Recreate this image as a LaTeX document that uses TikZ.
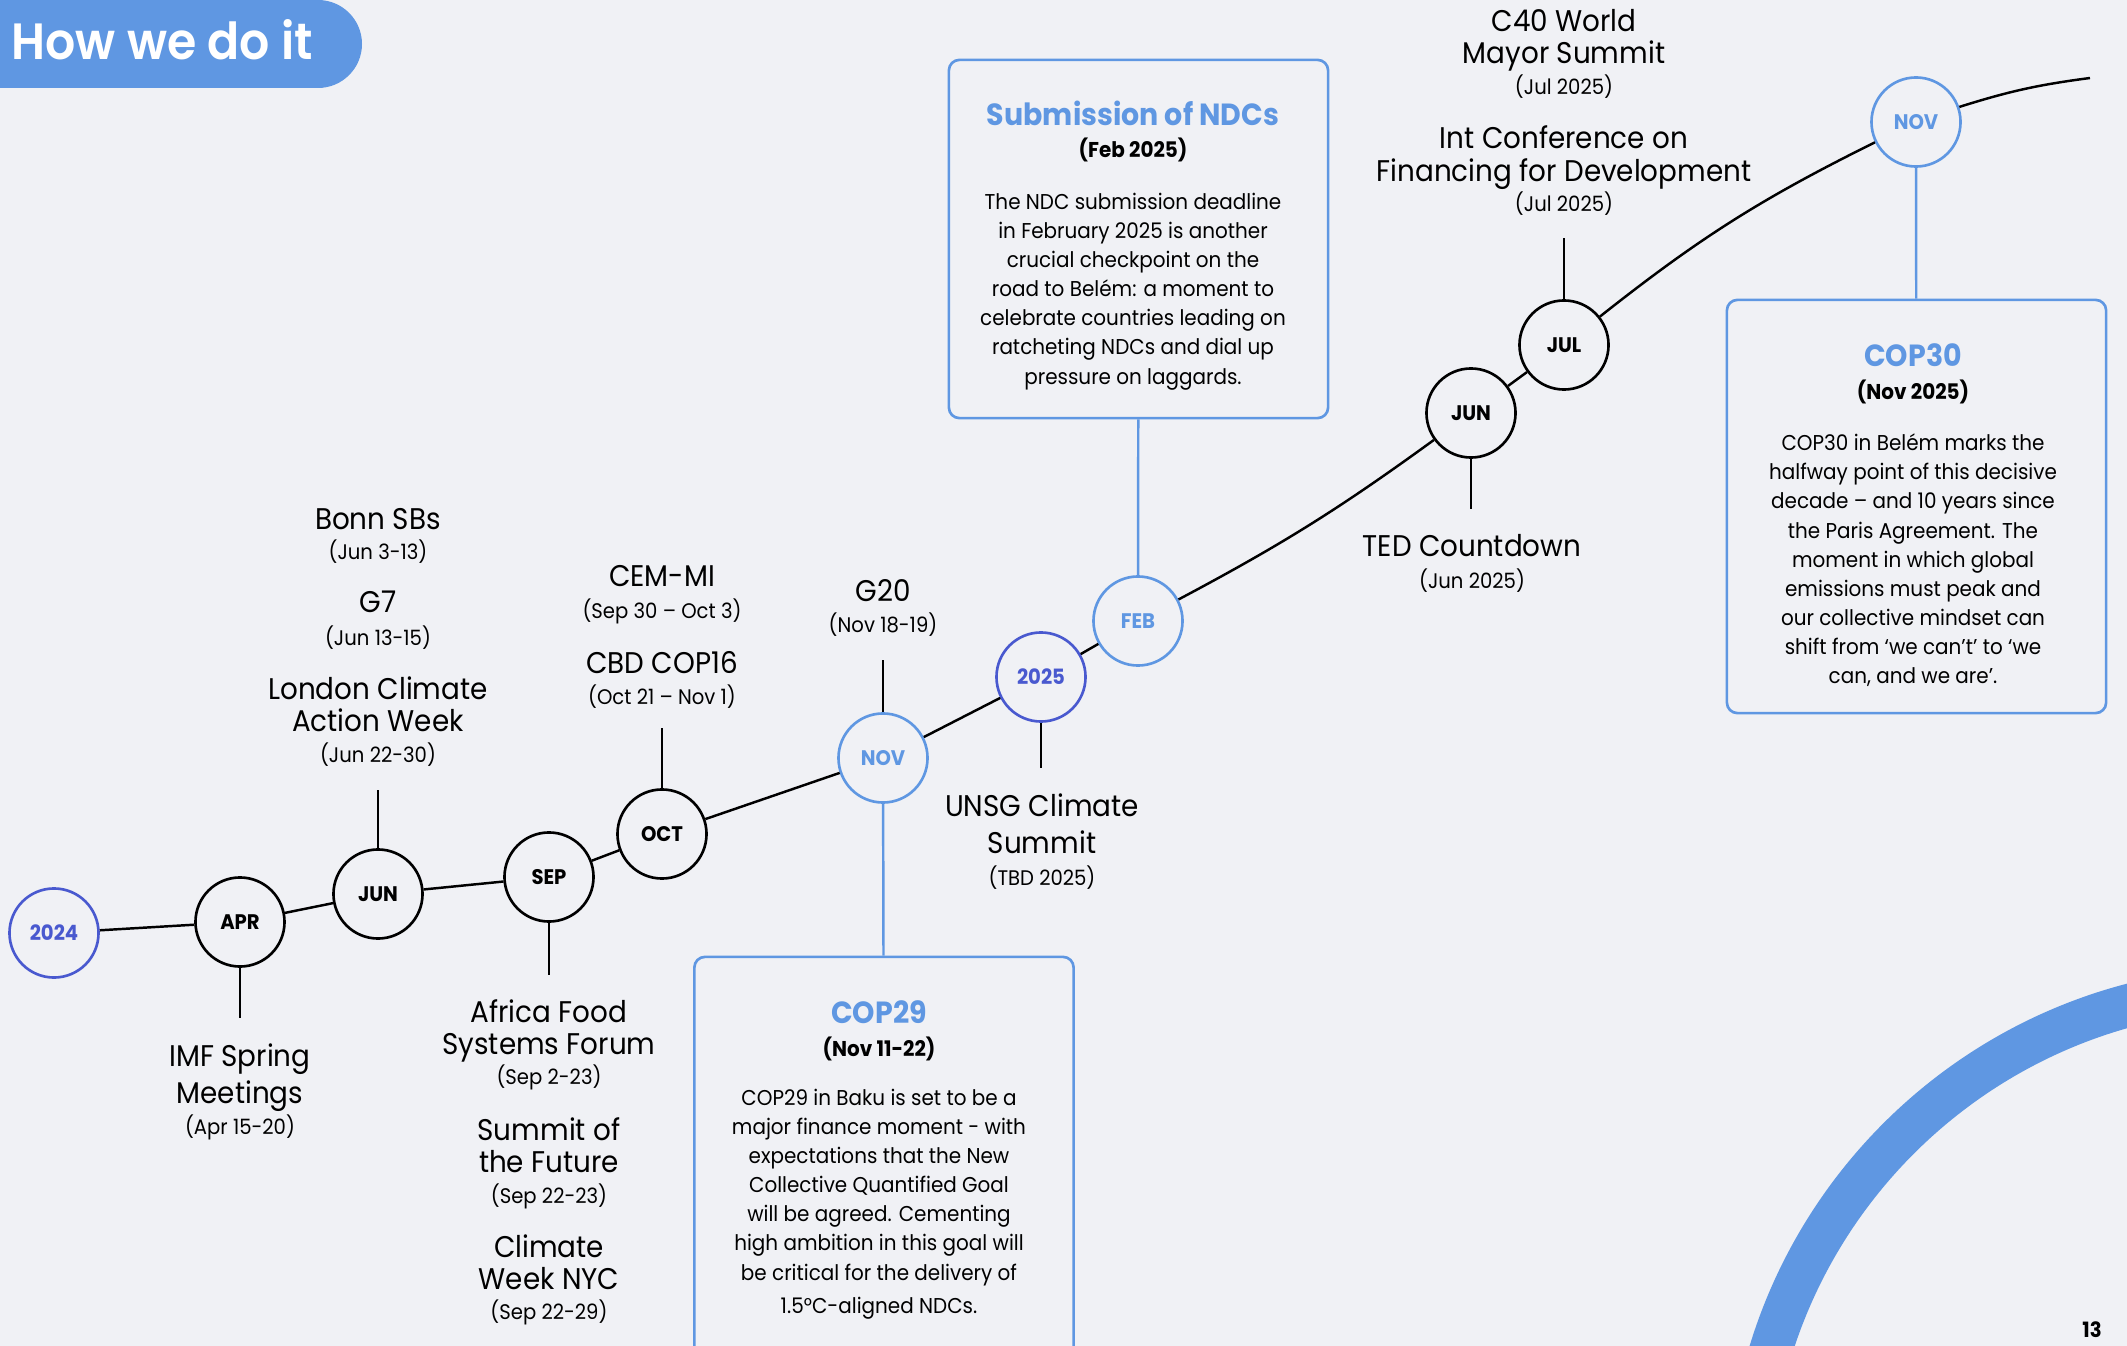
\documentclass[tikz,border=0pt]{standalone}
\usepackage{fontspec}
\setmainfont{Poppins}[FakeStretch=0.93]
\newfontfamily\headfont{Poppins SemiBold}[FakeStretch=0.93]
\definecolor{bgcol}{HTML}{F0F1F5}
\definecolor{lightblue}{HTML}{5F97E2}
\definecolor{darkblue}{HTML}{4959CF}
\newcommand{\evfont}{\fontsize{8.5}{9.1}\selectfont}
\newcommand{\dtfont}{\fontsize{6}{7}\selectfont}
\newcommand{\bodyfont}{\fontsize{6.1}{8.3}\selectfont}

\begin{document}
\begin{tikzpicture}
		[x=0.01cm, y=-0.01cm,
		month/.style={circle, draw, line width=0.75pt, minimum size=0.89cm, inner sep=0pt, fill=bgcol, font=\fontsize{6}{7}\selectfont\bfseries},
		keymonth/.style={month, draw=lightblue, text=lightblue},
		yr/.style={month, draw=darkblue, text=darkblue},
		evt/.style={align=center, inner sep=0pt, font=\evfont},
		dt/.style={inner sep=0pt, font=\dtfont},
		infobox/.style={draw=lightblue, line width=0.75pt, rounded corners=3pt, minimum width=3.79cm},
		boxtitle/.style={inner sep=0pt, text=lightblue, font=\fontsize{8.7}{10}\selectfont\bfseries},
		boxdate/.style={inner sep=0pt, font=\fontsize{6.1}{7}\selectfont\bfseries},
		boxbody/.style={align=center, inner sep=0pt, font=\bodyfont},
		tl/.style={line width=0.7pt},
		link/.style={draw=lightblue, line width=0.7pt}]
		% background %
		\fill[bgcol] (0,0) rectangle (2127,1346);
		\useasboundingbox (0,0) rectangle (2127,1346);
		\clip (0,0) rectangle (2127,1346);
		\draw[lightblue, line width=0.43cm] (2262,1502) circle[radius=514];
		\fill[lightblue, rounded corners=0.44cm] (-60,0) rectangle (362,88);
		\node[anchor=base west, inner sep=0pt, text=white, font=\fontsize{14.5}{16}\headfont] (title) at (11,60) {How we do it};
		\node[anchor=south, inner sep=0pt, font=\fontsize{6}{7}\selectfont\bfseries] (pagenum) at (2092,1338) {13};

		% nodes %
		\node[yr] (y24) at (54,933) {2024};
		\node[month] (apr) at (240,922) {APR};
		\node[month] (jun) at (378,894) {JUN};
		\node[month] (sep) at (549,877) {SEP};
		\node[month] (oct) at (662,834) {OCT};
		\node[keymonth] (nov) at (883,758) {NOV};
		\node[yr] (y25) at (1041,677) {2025};
		\node[keymonth] (feb) at (1138,621) {FEB};
		\node[month] (jun2) at (1471,413) {JUN};
		\node[month] (jul) at (1564,345) {JUL};
		\node[keymonth] (nov2) at (1916,122) {NOV};
		\coordinate (tlend) at (2090,78);

		\coordinate (aprtick) at (240,1018);
		\coordinate (juntick) at (378,790);
		\coordinate (septick) at (549,975);
		\coordinate (octtick) at (662,728);
		\coordinate (novtick) at (883,660);
		\coordinate (y25tick) at (1041,768);
		\coordinate (jun2tick) at (1471,509);
		\coordinate (jultick) at (1564,238);

		% events 2024 %
		\node[evt, anchor=north, font=\fontsize{8.5}{10.4}\selectfont] (imf) at (240,1043) {IMF Spring\\Meetings};
		\node[dt, anchor=base] (imfdt) at (240,1134) {(Apr 15-20)};

		\node[evt, anchor=base] (bonn) at (378,529) {Bonn SBs};
		\node[dt, anchor=base] (bonndt) at (378,560) {(Jun 3-13)};
		\node[evt, anchor=base] (g7) at (378,613) {G7};
		\node[dt, anchor=base] (g7dt) at (378,645) {(Jun 13-15)};
		\node[evt, anchor=north] (lcaw) at (378,676) {London Climate\\Action Week};
		\node[dt, anchor=base] (lcawdt) at (378,762) {(Jun 22-30)};

		\node[evt, anchor=north, font=\fontsize{8.5}{9}\selectfont] (afsf) at (549,999) {Africa Food\\Systems Forum};
		\node[dt, anchor=base] (afsfdt) at (549,1084) {(Sep 2-23)};
		\node[evt, anchor=north, font=\fontsize{8.5}{9}\selectfont] (sotf) at (549,1117) {Summit of\\the Future};
		\node[dt, anchor=base] (sotfdt) at (549,1203) {(Sep 22-23)};
		\node[evt, anchor=north, font=\fontsize{8.5}{9}\selectfont] (cwnyc) at (549,1234) {Climate\\Week NYC};
		\node[dt, anchor=base] (cwnycdt) at (549,1319) {(Sep 22-29)};

		\node[evt, anchor=base] (cemmi) at (662,587) {CEM-MI};
		\node[dt, anchor=base] (cemmidt) at (662,618) {(Sep 30 – Oct 3)};
		\node[evt, anchor=base] (cbd) at (662,673) {CBD COP16};
		\node[dt, anchor=base] (cbddt) at (662,704) {(Oct 21 – Nov 1)};

		\node[evt, anchor=base] (g20) at (883,601) {G20};
		\node[dt, anchor=base] (g20dt) at (883,633) {(Nov 18-19)};

		% events 2025 %
		\node[evt, anchor=north, font=\fontsize{8.5}{10.5}\selectfont] (unsg) at (1042,793) {UNSG Climate\\Summit};
		\node[dt, anchor=base] (unsgdt) at (1042,885) {(TBD 2025)};

		\node[evt, anchor=base] (ted) at (1472,557) {TED Countdown};
		\node[dt, anchor=base] (teddt) at (1472,588) {(Jun 2025)};

		\node[evt, anchor=north] (c40) at (1564,9) {C40 World\\Mayor Summit};
		\node[dt, anchor=base] (c40dt) at (1564,95) {(Jul 2025)};
		\node[evt, anchor=north, font=\fontsize{8.5}{9.4}\selectfont] (ffd) at (1564,125) {Int Conference on\\Financing for Development};
		\node[dt, anchor=base] (ffddt) at (1564,212) {(Jul 2025)};

		% boxes %
		\node[infobox, minimum height=3.58cm] (ndcbox) at (1138.5,239) {};
		\node[boxtitle, anchor=base] (ndctitle) at (1133,126) {Submission of NDCs};
		\node[boxdate, anchor=base] (ndcdate) at (1133,158) {(Feb 2025)};
		\node[boxbody, anchor=north] (ndcbody) at (1133,192) {The NDC submission deadline\\in February 2025 is another\\crucial checkpoint on the\\road to Belém: a moment to\\celebrate countries leading on\\ratcheting NDCs and dial up\\pressure on laggards.};

		\node[infobox, minimum height=4.13cm] (cop30box) at (1916.5,506.5) {};
		\node[boxtitle, anchor=base] (cop30title) at (1913,367) {COP30};
		\node[boxdate, anchor=base] (cop30date) at (1913,400) {(Nov 2025)};
		\node[boxbody, anchor=north] (cop30body) at (1913,433) {COP30 in Belém marks the\\halfway point of this decisive\\decade – and 10 years since\\the Paris Agreement. The\\moment in which global\\emissions must peak and\\our collective mindset can\\shift from ‘we can’t’ to ‘we\\can, and we are’.};

		\node[infobox, minimum height=4.03cm] (cop29box) at (884,1158.5) {};
		\node[boxtitle, anchor=base] (cop29title) at (879,1023) {COP29};
		\node[boxdate, anchor=base] (cop29date) at (879,1056) {(Nov 11-22)};
		\node[boxbody, anchor=north] (cop29body) at (879,1088) {COP29 in Baku is set to be a\\major finance moment - with\\expectations that the New\\Collective Quantified Goal\\will be agreed. Cementing\\high ambition in this goal will\\be critical for the delivery of\\[1.2pt]1.5°C-aligned NDCs.};

		% edges %
		\draw[tl] (y24) -- (apr) -- (jun) -- (sep) -- (oct) -- (nov) -- (y25) -- (feb);
		\draw[tl] (feb) to[bend right=4] (jun2);
		\draw[tl] (jun2) -- (jul);
		\draw[tl] (jul) to[bend left=6] (nov2);
		\draw[tl] (nov2) to[bend left=5] (tlend);
		\draw[tl] (apr) -- (aprtick);
		\draw[tl] (jun) -- (juntick);
		\draw[tl] (sep) -- (septick);
		\draw[tl] (oct) -- (octtick);
		\draw[tl] (nov) -- (novtick);
		\draw[tl] (y25) -- (y25tick);
		\draw[tl] (jun2) -- (jun2tick);
		\draw[tl] (jul) -- (jultick);
		\draw[link] (nov) -- (cop29box);
		\draw[link] (feb) -- (ndcbox);
		\draw[link] (nov2) -- (cop30box);
		\end{tikzpicture}
\end{document}
